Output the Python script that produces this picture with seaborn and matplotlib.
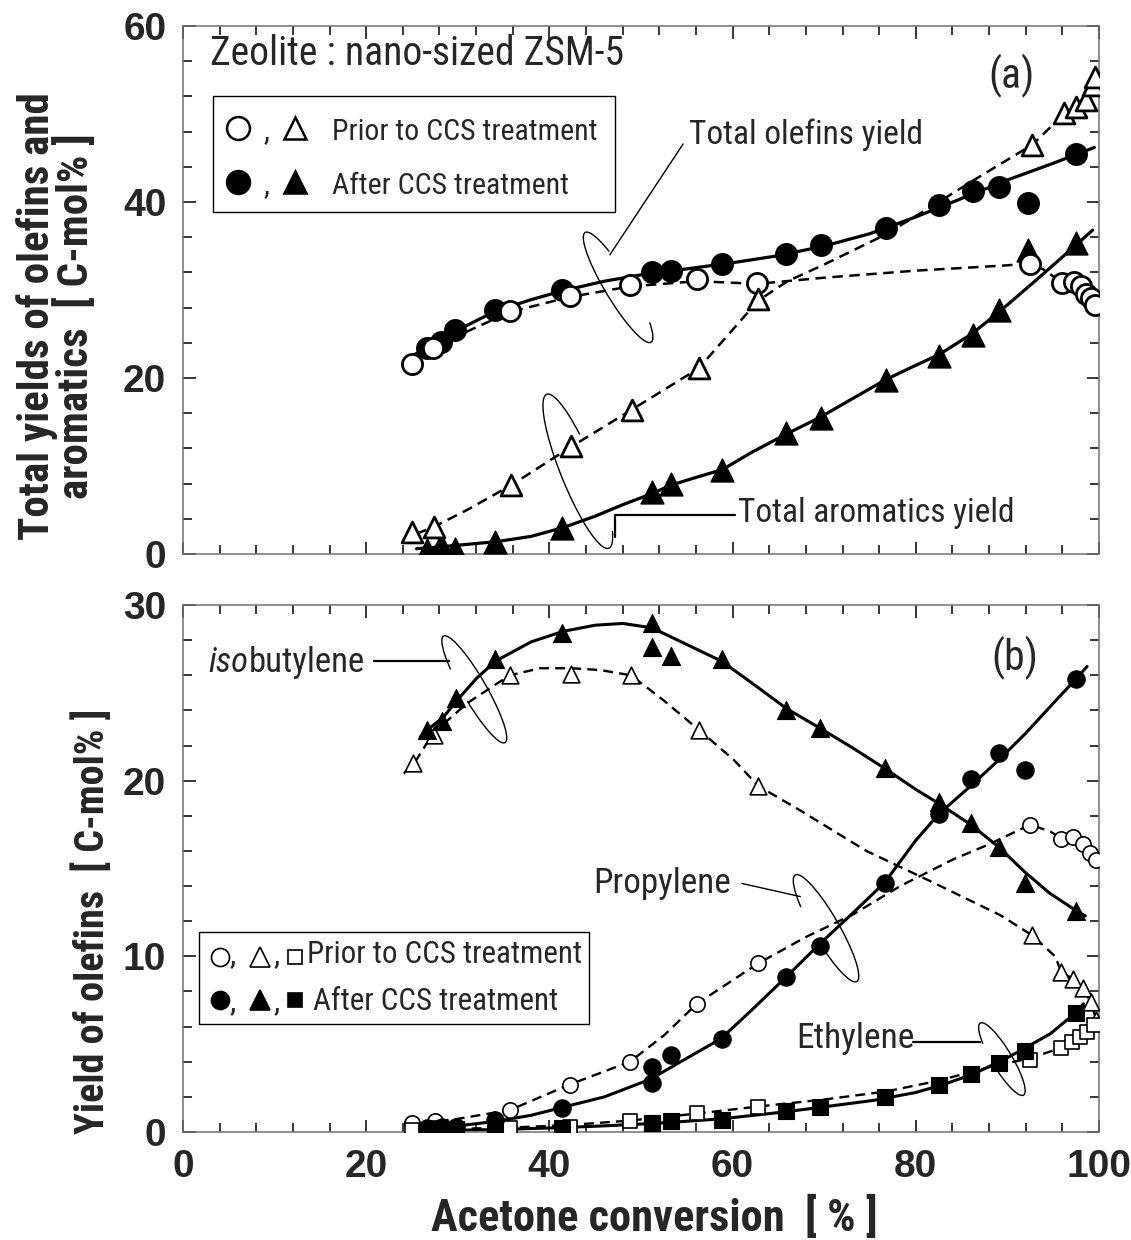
import numpy as np
import pandas as pd
import matplotlib
matplotlib.use("Agg")
import matplotlib.pyplot as plt
import seaborn as sns
from matplotlib import font_manager as fm
from matplotlib.patches import Arc, Rectangle
from matplotlib.lines import Line2D
import matplotlib.transforms as mtransforms

# ---------------- data : panel (a) ----------------
a_prior_olef_x = [25.0, 27.3, 35.7, 42.2, 48.8, 56.1, 62.7, 92.5, 96.0, 97.3, 98.0, 98.6, 99.1, 99.6]
a_prior_olef_y = [21.6, 23.4, 27.6, 29.3, 30.6, 31.2, 30.8, 33.0, 30.8, 30.9, 30.4, 29.6, 29.1, 28.3]
a_prior_arom_x = [25.0, 27.4, 35.8, 42.4, 49.0, 56.3, 62.8, 92.7, 96.2, 97.5, 98.6, 99.3, 99.6]
a_prior_arom_y = [2.5, 3.1, 7.8, 12.3, 16.4, 21.1, 29.0, 46.5, 50.1, 50.8, 51.6, 53.3, 54.2]
a_after_x = [26.6, 28.2, 29.7, 34.1, 41.4, 51.2, 53.3, 58.8, 65.8, 69.6, 76.7, 82.5, 86.2, 89.1, 92.2, 97.5]
a_after_olef_y = [23.4, 24.1, 25.5, 27.7, 30.0, 32.1, 32.2, 33.0, 34.1, 35.1, 37.0, 39.7, 41.2, 41.7, 39.9, 45.4]
a_after_arom_y = [0.5, 1.0, 0.6, 1.4, 2.9, 7.0, 8.0, 9.5, 13.7, 15.4, 19.8, 22.5, 24.9, 27.7, 34.5, 35.3]

# hand-drawn guide curves of panel (a)
a_fit_after_olef_x = [24.8, 26.6, 28.2, 29.7, 34.1, 38, 41.4, 46, 51, 55, 60, 65, 70, 75, 80, 85, 90, 95, 99.5]
a_fit_after_olef_y = [22.4, 23.4, 24.2, 25.3, 27.6, 28.9, 29.9, 31.0, 31.9, 32.4, 33.1, 33.9, 35.0, 36.4, 38.3, 40.4, 42.5, 44.4, 46.2]
a_fit_prior_olef_x = [24.6, 25.0, 27.3, 30, 35.7, 42.2, 48.8, 56.1, 62.7, 70, 75, 80, 85, 89.9, 92.5, 94, 96.0, 97.3, 98.0, 98.6, 99.1, 99.6]
a_fit_prior_olef_y = [21.2, 21.6, 23.3, 24.8, 27.5, 29.2, 30.4, 31.0, 30.7, 31.4, 31.8, 32.2, 32.5, 32.8, 33.0, 32.3, 30.8, 30.9, 30.4, 29.6, 29.1, 28.3]
a_fit_prior_arom_x = [25.5, 27.4, 31, 35.8, 42.4, 49.0, 56.3, 62.8, 66, 70, 76.7, 82.5, 86.2, 92.7, 96.2, 97.5, 98.6, 99.3, 99.6]
a_fit_prior_arom_y = [2.3, 3.1, 5.0, 7.8, 12.2, 16.4, 21.1, 28.8, 31.0, 32.9, 36.3, 40.0, 42.4, 46.5, 50.0, 50.8, 51.6, 53.3, 54.2]
a_fit_after_arom_x = [25.5, 28, 30, 34.2, 38, 41.5, 45, 48, 51.3, 53.2, 56, 58.9, 62, 65.8, 69.5, 73, 76.7, 79.5, 82.6, 86.1, 89.2, 93, 97.7, 99.3]
a_fit_after_arom_y = [0.6, 0.8, 1.0, 1.4, 2.0, 3.0, 4.3, 5.6, 6.9, 7.8, 8.7, 9.6, 11.5, 13.6, 15.5, 17.6, 19.8, 21.2, 22.7, 25.0, 27.6, 31.0, 35.3, 36.8]

# ---------------- data : panel (b) ----------------
b_prior_iso_x = [25.1, 27.4, 35.7, 42.4, 48.9, 56.3, 62.8, 92.7, 95.9, 97.2, 98.2, 99.1, 99.7]
b_prior_iso_y = [21.0, 22.6, 26.0, 26.1, 26.0, 22.9, 19.7, 11.2, 9.1, 8.7, 8.2, 7.4, 6.4]
b_prior_pro_x = [25.0, 27.5, 35.7, 42.2, 48.8, 56.1, 62.8, 92.5, 95.9, 97.2, 98.2, 99.0, 99.7]
b_prior_pro_y = [0.5, 0.6, 1.25, 2.7, 4.0, 7.3, 9.6, 17.5, 16.7, 16.8, 16.4, 15.9, 15.5]
b_prior_eth_x = [25.0, 27.5, 35.7, 42.2, 48.8, 56.1, 62.8, 92.5, 95.9, 97.1, 97.9, 98.7, 99.5]
b_prior_eth_y = [0.1, 0.2, 0.2, 0.3, 0.6, 1.1, 1.4, 4.1, 4.8, 5.1, 5.4, 5.7, 6.1]
b_after_x = [26.6, 28.3, 29.8, 34.1, 41.4, 51.2, 51.2, 53.3, 58.8, 65.8, 69.5, 76.6, 82.5, 86.0, 89.1, 91.9, 97.5]
b_after_iso_y = [22.9, 23.4, 24.7, 26.9, 28.4, 29.0, 27.6, 27.1, 26.9, 24.0, 23.0, 20.7, 18.8, 17.6, 16.2, 14.2, 12.6]
b_after_pro_y = [0.2, 0.3, 0.3, 0.7, 1.35, 3.7, 2.8, 4.4, 5.3, 8.8, 10.6, 14.2, 18.1, 20.1, 21.6, 20.6, 25.8]
b_after_eth_y = [0.1, 0.15, 0.15, 0.2, 0.25, 0.5, 0.5, 0.6, 0.7, 1.2, 1.4, 2.0, 2.7, 3.3, 3.9, 4.6, 6.8]

b_fit_after_iso_x = [25.9, 26.7, 28.4, 29.8, 32, 34.1, 38, 41.5, 45, 48, 51.2, 54, 56.4, 58.8, 62, 65.9, 69.5, 73, 76.6, 80, 82.5, 86.0, 89.1, 91.9, 94.6, 97.5, 98.5]
b_fit_after_iso_y = [22.5, 22.9, 23.6, 24.5, 25.8, 26.8, 27.9, 28.5, 28.85, 28.95, 28.7, 28.0, 27.4, 26.8, 25.6, 24.1, 23.0, 21.9, 20.7, 19.5, 18.7, 17.5, 16.2, 14.8, 13.6, 12.6, 12.3]
b_fit_prior_iso_x = [24.1, 25.5, 27.3, 31.0, 33.9, 35.7, 39.0, 42.4, 45.5, 48.9, 52.4, 56.3, 60.1, 62.8, 67.4, 74.6, 81.9, 89.2, 92.7, 95.2, 95.9, 97.2, 98.2, 99.1, 99.7]
b_fit_prior_iso_y = [20.4, 21.2, 22.7, 24.4, 25.4, 26.0, 26.4, 26.4, 26.3, 26.0, 24.6, 22.9, 21.2, 19.7, 18.3, 16.0, 14.2, 12.35, 11.2, 10.0, 9.1, 8.7, 8.2, 7.4, 6.4]
b_fit_after_pro_x = [25.5, 30, 34.1, 38, 41.4, 46, 51.0, 55, 58.7, 62, 65.8, 69.5, 73, 76.6, 80, 82.5, 86.0, 89.1, 92, 95, 97.5, 98.7]
b_fit_after_pro_y = [0.3, 0.35, 0.6, 0.95, 1.4, 2.0, 3.0, 4.2, 5.3, 6.9, 8.8, 10.7, 12.4, 14.2, 16.6, 18.1, 19.7, 21.2, 22.7, 24.4, 25.8, 26.5]
b_fit_prior_pro_x = [24.5, 25.0, 27.5, 30, 35.7, 42.2, 48.8, 52.5, 56.1, 62.8, 68, 73.2, 78.3, 84, 88.1, 92.5, 94.7, 95.9, 97.2, 98.2, 99.0, 99.7]
b_fit_prior_pro_y = [0.35, 0.5, 0.6, 0.75, 1.25, 2.7, 4.0, 5.5, 7.3, 9.6, 11.1, 12.4, 14.0, 15.5, 16.4, 17.5, 17.1, 16.7, 16.8, 16.4, 15.9, 15.5]
b_fit_after_eth_x = [25.5, 30, 35, 41.4, 46, 49.9, 53.3, 58.8, 65.8, 69.5, 75.4, 80, 83, 86.3, 89.9, 92, 94.7, 97.5, 98.3]
b_fit_after_eth_y = [0.05, 0.1, 0.15, 0.25, 0.35, 0.45, 0.55, 0.75, 1.15, 1.4, 1.8, 2.25, 2.7, 3.3, 4.2, 4.8, 5.6, 6.8, 7.3]
b_fit_prior_eth_x = [24.5, 27.5, 35.7, 42.2, 48.8, 56.1, 62.8, 70, 76.7, 82.3, 88.1, 92.5, 95.9, 97.1, 97.9, 98.7, 99.5]
b_fit_prior_eth_y = [0.1, 0.15, 0.25, 0.4, 0.65, 1.05, 1.45, 1.85, 2.3, 2.9, 3.7, 4.2, 4.8, 5.1, 5.4, 5.7, 6.1]

# ---------------- text ----------------
x_label = "Acetone conversion  [ % ]"
a_ylabel = "Total yields of olefins and\naromatics  [ C-mol% ]"
b_ylabel = "Yield of olefins  [ C-mol% ]"
x_ticks = [0, 20, 40, 60, 80, 100]
a_yticks = [0, 20, 40, 60]
b_yticks = [0, 10, 20, 30]

# ---------------- style ----------------
sns.set_style("ticks")
names = {f.name for f in fm.fontManager.ttflist}
NARROW = "Roboto Condensed" if "Roboto Condensed" in names else "DejaVu Sans"
WIDE = "Liberation Sans" if "Liberation Sans" in names else "DejaVu Sans"
plt.rcParams["font.family"] = [NARROW, "DejaVu Sans"]
TW = "normal"  # text weight of the annotations

W, H = 1131, 1240
fig = plt.figure(figsize=(W / 100, H / 100), dpi=100)
L, R = 183, 1099
ax1 = fig.add_axes([L / W, 1 - 554 / H, (R - L) / W, (554 - 26) / H])
ax2 = fig.add_axes([L / W, 1 - 1132 / H, (R - L) / W, (1132 - 605) / H])

DASH = (0, (4.2, 2.6))


def curve(ax, x, y, dashed, lw):
    sns.lineplot(x=x, y=y, ax=ax, sort=False, estimator=None, errorbar=None,
                 color="black", linewidth=lw, linestyle=DASH if dashed else "-",
                 zorder=2, legend=False)


def pts(ax, x, y, marker, filled, size, lw, z):
    sns.scatterplot(x=x, y=y, ax=ax, marker=marker, s=size ** 2,
                    color="black" if filled else "white", edgecolor="black",
                    linewidth=lw, zorder=z, legend=False)


def lasso(ax, cx, cy, length_px, width_px, angle, t1, t2):
    trans = fig.dpi_scale_trans + mtransforms.ScaledTranslation(cx, cy, ax.transData)
    ax.add_patch(Arc((0, 0), length_px / 100, width_px / 100, angle=angle,
                     theta1=t1, theta2=t2, transform=trans, color="black",
                     lw=1.0, clip_on=False, zorder=4))


for ax in (ax1, ax2):
    ax.set_xlim(0, 100)
    ax.set_xticks(x_ticks)
    ax.set_xticks(np.arange(0, 101, 4), minor=True)
    ax.tick_params(which="both", direction="in", top=True, right=True,
                   color="black", width=1.1)
    ax.tick_params(which="major", length=9, pad=12)
    ax.tick_params(which="minor", length=6.5)
    for s in ax.spines.values():
        s.set_color("#707070")
        s.set_linewidth(1.1)
    ax.set_facecolor("white")

ax1.set_ylim(0, 60)
ax1.set_yticks(a_yticks)
ax1.set_yticks(np.arange(0, 61, 4), minor=True)
ax1.tick_params(labelbottom=False)
ax2.set_ylim(0, 30)
ax2.set_yticks(b_yticks)
ax2.set_yticks(np.arange(0, 31, 2), minor=True)

for ax in (ax1, ax2):
    for lab in ax.get_xticklabels() + ax.get_yticklabels():
        lab.set_fontfamily([WIDE, "DejaVu Sans"])
        lab.set_fontweight("bold")
        lab.set_fontsize(28)

# ---------------- panel (a) ----------------
curve(ax1, a_fit_prior_olef_x, a_fit_prior_olef_y, True, 1.8)
curve(ax1, a_fit_prior_arom_x, a_fit_prior_arom_y, True, 1.8)
curve(ax1, a_fit_after_olef_x, a_fit_after_olef_y, False, 2.3)
curve(ax1, a_fit_after_arom_x, a_fit_after_arom_y, False, 2.3)
pts(ax1, a_after_x, a_after_olef_y, "o", True, 15.5, 1.0, 5)
pts(ax1, a_after_x, a_after_arom_y, "^", True, 16.5, 1.0, 5)
pts(ax1, a_prior_olef_x, a_prior_olef_y, "o", False, 14.5, 2.0, 6)
pts(ax1, a_prior_arom_x, a_prior_arom_y, "^", False, 15.0, 2.0, 6)

ax1.set_ylabel(a_ylabel, fontsize=31, fontweight="bold", linespacing=0.88)
ax1.yaxis.set_label_coords(-0.138, 0.45)
ax1.yaxis.label.set_va("center")

ax1.text(0.0295, 0.927, "Zeolite : nano-sized ZSM-5", transform=ax1.transAxes,
         fontsize=28.5, fontweight=TW, va="baseline", ha="left")
ax1.text(0.905, 0.905, "(a)", transform=ax1.transAxes, fontsize=30, fontweight=TW,
         va="center", ha="center")

# legend (a), drawn by hand
ax1.add_patch(Rectangle((0.0328, 0.6477), 0.4388, 0.2197, transform=ax1.transAxes,
                        fill=True, facecolor="white", edgecolor="black", lw=1.0, zorder=7))
for yy, filled, label in ((0.807, False, "Prior to CCS treatment"),
                          (0.705, True, "After CCS treatment")):
    ax1.add_line(Line2D([0.060], [yy], marker="o", markersize=16.5,
                        markerfacecolor="black" if filled else "white",
                        markeredgecolor="black", markeredgewidth=1.8,
                        transform=ax1.transAxes, zorder=8))
    ax1.add_line(Line2D([0.1223], [yy], marker="^", markersize=16.5,
                        markerfacecolor="black" if filled else "white",
                        markeredgecolor="black", markeredgewidth=1.8,
                        transform=ax1.transAxes, zorder=8))
    ax1.text(0.0917, yy - 0.022, ",", transform=ax1.transAxes, fontsize=22, fontweight=TW,
             ha="center", va="baseline", zorder=8)
    ax1.text(0.1627, yy - 0.023, label, transform=ax1.transAxes, fontsize=21.5, fontweight=TW,
             ha="left", va="baseline", zorder=8)

# annotations (a)
ax1.text(55.2, 46.6, "Total olefins yield", fontsize=24, fontweight=TW, va="baseline", ha="left")
ax1.plot([54.6, 46.6], [46.6, 34.0], color="black", lw=1.0, zorder=4)
lasso(ax1, 47.5, 30.3, 128, 26, -59, 163, 11)

ax1.text(60.6, 4.7, "Total aromatics yield", fontsize=24, fontweight=TW, va="center", ha="left")
ax1.plot([47.2, 47.2, 60.3], [1.9, 4.43, 4.43], color="black", lw=1.6, zorder=4)
lasso(ax1, 43.1, 9.4, 166, 34, -68, 155, 8)

# ---------------- panel (b) ----------------
curve(ax2, b_fit_prior_iso_x, b_fit_prior_iso_y, True, 1.7)
curve(ax2, b_fit_prior_pro_x, b_fit_prior_pro_y, True, 1.7)
curve(ax2, b_fit_prior_eth_x, b_fit_prior_eth_y, True, 1.7)
curve(ax2, b_fit_after_iso_x, b_fit_after_iso_y, False, 2.2)
curve(ax2, b_fit_after_pro_x, b_fit_after_pro_y, False, 2.2)
curve(ax2, b_fit_after_eth_x, b_fit_after_eth_y, False, 2.2)
pts(ax2, b_prior_iso_x, b_prior_iso_y, "^", False, 12.0, 1.2, 5)
pts(ax2, b_prior_pro_x, b_prior_pro_y, "o", False, 11.0, 1.2, 5)
pts(ax2, b_prior_eth_x, b_prior_eth_y, "s", False, 10.5, 1.2, 5)
pts(ax2, b_after_x, b_after_iso_y, "^", True, 13.0, 0.8, 6)
pts(ax2, b_after_x, b_after_pro_y, "o", True, 12.5, 0.8, 6)
pts(ax2, b_after_x, b_after_eth_y, "s", True, 11.5, 0.8, 6)

ax2.set_xlabel(x_label, fontsize=32, fontweight="bold")
ax2.xaxis.set_label_coords(0.515, -0.163)
ax2.xaxis.label.set_va("center")
ax2.set_ylabel(b_ylabel, fontsize=29, fontweight="bold")
ax2.yaxis.set_label_coords(-0.1, 0.40)
ax2.yaxis.label.set_va("center")

ax2.text(0.908, 0.90, "(b)", transform=ax2.transAxes, fontsize=30, fontweight=TW,
         va="center", ha="center")

# legend (b), drawn by hand
ax2.add_patch(Rectangle((0.0178, 0.205), 0.4258, 0.175, transform=ax2.transAxes,
                        fill=True, facecolor="white", edgecolor="black", lw=1.0, zorder=7))
for yy, ty, tx, filled, label in ((0.3326, 0.320, 0.135, False, "Prior to CCS treatment"),
                                  (0.2505, 0.2315, 0.1423, True, "After CCS treatment")):
    fc = "black" if filled else "white"
    for mx, mk, ms in ((0.0404, "o", 13), (0.0841, "^", 14), (0.1223, "s", 10)):
        ax2.add_line(Line2D([mx], [yy], marker=mk, markersize=ms, markerfacecolor=fc,
                            markeredgecolor="black", markeredgewidth=1.2,
                            transform=ax2.transAxes, zorder=8))
    for cx in (0.0546, 0.1023):
        ax2.text(cx, ty, ",", transform=ax2.transAxes, fontsize=23, fontweight=TW,
                 ha="center", va="baseline", zorder=8)
    ax2.text(tx, ty, label, transform=ax2.transAxes, fontsize=22.3, fontweight=TW,
             ha="left", va="baseline", zorder=8)

# annotations (b)
t_iso = ax2.text(2.8, 26.2, "iso", fontsize=25, fontweight=TW, style="italic",
                 va="baseline", ha="left")
ax2.annotate("butylene", xy=(1, 0), xycoords=t_iso, fontsize=25, fontweight=TW,
             va="bottom", ha="left")
ax2.plot([20.8, 29.0], [26.8, 26.8], color="black", lw=1.6, zorder=4)
lasso(ax2, 31.8, 25.2, 123, 24, -60, 300, 200)

ax2.text(44.8, 13.6, "Propylene", fontsize=25.3, fontweight=TW, va="baseline", ha="left")
ax2.plot([61.0, 67.4], [14.15, 13.4], color="black", lw=1.0, zorder=4)
lasso(ax2, 70.2, 11.6, 123, 26, -60, 300, 200)

ax2.text(67.0, 4.78, "Ethylene", fontsize=25.5, fontweight=TW, va="baseline", ha="left")
ax2.plot([79.7, 87.0], [5.14, 5.14], color="black", lw=1.6, zorder=4)
lasso(ax2, 89.4, 4.15, 84, 20, -59, 300, 200)

fig.savefig("out.png", dpi=100, facecolor="white")
